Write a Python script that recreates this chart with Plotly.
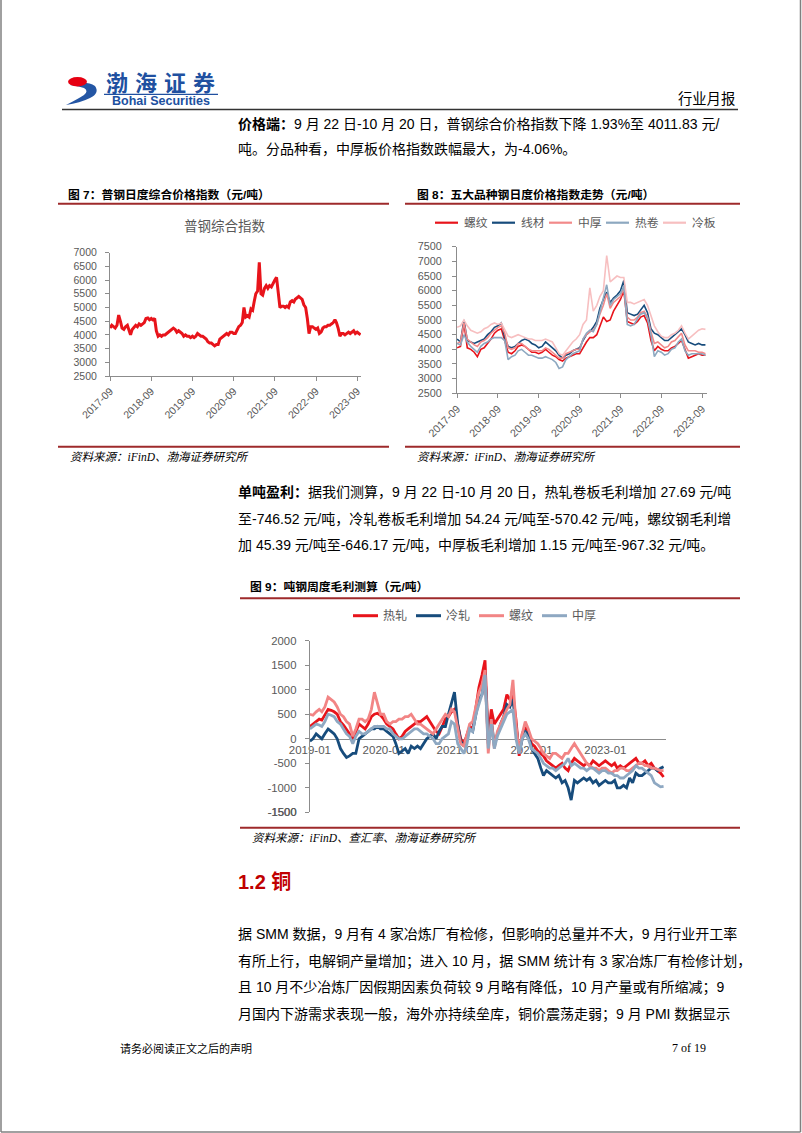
import plotly.graph_objects as go

# ---------------- data ----------------
TICKS7 = ["2017-09", "2018-09", "2019-09", "2020-09", "2021-09", "2022-09", "2023-09"]
PUGANG = [
    4250, 4350, 4300, 4250, 4350, 4725, 4500, 4250, 4200, 4300,
    4350, 4200, 4000, 4200, 4300, 4350, 4300, 4400, 4350, 4400,
    4450, 4600, 4620, 4550, 4600, 4550, 4600, 4150, 3950, 4000,
    3950, 4000, 4000, 4050, 4100, 4150, 4200, 4250, 4200, 4100,
    4150, 4100, 4050, 3950, 4000, 3950, 3950, 3900, 3950, 3900,
    3950, 4050, 4000, 3950, 3950, 3900, 3850, 3750, 3700, 3700,
    3650, 3600, 3650, 3650, 3850, 3900, 3950, 4000, 4050, 4000,
    4100, 4100, 4050, 4050, 4150, 4300, 4350, 4450, 5000, 4650,
    4700, 4650, 4950, 4900, 5200, 5500, 5600, 6650, 5500, 5450,
    5700, 5800, 5700, 5800, 5750, 5900, 6000, 6100, 5500, 5000,
    5050, 5050, 5000, 5050, 5000, 5200, 5250, 5200, 5300, 5350,
    5400, 5350, 5300, 5100, 5000, 4600, 4050, 4300, 4300, 4250,
    4200, 4250, 4050, 4100, 4250, 4300, 4300, 4350, 4350, 4400,
    4450, 4550, 4450, 4250, 3950, 4050, 4050, 4000, 4050, 4100,
    4050, 4100, 4150, 4050, 4100, 4050, 4010,
]

SERIES8 = ["螺纹", "线材", "中厚", "热卷", "冷板"]
LUOWEN8 = [
    4050, 4100, 4900, 4050, 4000, 3900, 3750, 4000, 4050, 4200,
    4350, 4550, 4650, 4700, 4300, 3900, 3850, 3950, 4100, 4150,
    4100, 4000, 3900, 3900, 3850, 3900, 4000, 3900, 3800, 3750,
    3650, 3600, 3700, 3750, 3800, 3850, 3850, 4050, 4250, 4400,
    4400, 4500, 4800, 5100, 4950, 5000, 5300, 5500, 5700, 6000,
    4950, 4900, 4850, 4950, 5100, 5150, 4900, 4300, 3950, 4100,
    4000, 3950, 3950, 4050, 4100, 4200, 4300, 4000, 3700, 3750,
    3800, 3850, 3800, 3800,
]
XIANCAI8 = [
    4350, 4250, 5000, 4300, 4250, 4200, 4250, 4300, 4350, 4500,
    4600, 4750, 4800, 4900, 4400, 4100, 4050, 4100, 4200, 4300,
    4350, 4300, 4200, 4150, 4050, 4100, 4250, 4150, 4050, 3950,
    3800, 3700, 3800, 3850, 3950, 4000, 4050, 4300, 4500, 4600,
    4750, 4950, 5400, 5700, 5950, 5600, 5750, 5850, 6000, 6350,
    5250, 5200, 5150, 5200, 5350, 5500, 5250, 4700, 4550, 4500,
    4400, 4300, 4300, 4400, 4500, 4600, 4700, 4500, 4250, 4200,
    4150, 4200, 4150, 4150,
]
ZHONGHOU8 = [
    4200, 4250, 4900, 4350, 4250, 4150, 4100, 4250, 4300, 4400,
    4550, 4650, 4750, 4800, 4550, 4050, 4000, 4050, 4200, 4200,
    4100, 4000, 3950, 3950, 3950, 3950, 4050, 4000, 3900, 3800,
    3700, 3700, 3850, 3900, 3950, 4000, 4000, 4350, 4500, 4600,
    4650, 4850, 5200, 5500, 5900, 5400, 5600, 5700, 5800, 6100,
    5100, 5000, 5000, 5100, 5250, 5300, 5100, 4600, 4200, 4250,
    4150, 4050, 4100, 4250, 4300, 4450, 4550, 4150, 3950, 3950,
    3950, 3900, 3900, 3850,
]
REJUAN8 = [
    4200, 4150, 4500, 4250, 4100, 4000, 3900, 4100, 4200, 4250,
    4350, 4400, 4400, 4400, 4300, 3650, 3750, 3800, 3950, 4000,
    3900, 3800, 3800, 3750, 3700, 3700, 3750, 3700, 3650, 3550,
    3350, 3400, 3650, 3750, 3850, 3900, 3950, 4350, 4550, 4650,
    4600, 4850, 5300, 5700, 6200, 5500, 5700, 5800, 5900, 6150,
    4850, 4800, 4850, 5050, 5200, 5250, 5050, 4500, 3750, 3950,
    3900, 3800, 3850, 4000, 4050, 4250, 4350, 3950, 3800, 3850,
    3850, 3850, 3850, 3800,
]
LENGBAN8 = [
    4750, 4800, 5000, 4800, 4650, 4600, 4550, 4600, 4700, 4750,
    4850, 4900, 4850, 4900, 4650, 4450, 4400, 4450, 4500, 4450,
    4400, 4350, 4350, 4300, 4300, 4300, 4350, 4300, 4250, 4050,
    3850, 3800, 3950, 4100, 4250, 4350, 4500, 4850, 5000, 6100,
    5300, 5500, 5800, 6000, 7200, 6300, 6400, 6500, 6450, 6450,
    5600, 5600, 5550, 5600, 5650, 5700, 5500, 5100, 4800, 4600,
    4450, 4400, 4400, 4500, 4550, 4650, 4800, 4550, 4350, 4450,
    4550, 4650, 4700, 4680,
]

SERIES9 = ["热轧", "冷轧", "螺纹", "中厚"]
TICKS9 = ["2019-01", "2020-01", "2021-01", "2022-01", "2023-01"]
REZHA9 = [
    250, 300, 350, 400, 380, 500, 600, 580, 550, 500,
    350, 280, 200, 100, 0, 150, 300, 250, 200, 300,
    450, 500, 520, 480, 400, 300, 250, 200, 100, 0,
    50, 150, 200, 250, 300, 350, 350, 400, 450, 350,
    250, 150, 100, 250, 400, 450, 550, 600, 300, 0,
    -100, 100, 250, 200, 600, 1050, 1300, 1600, 0, 600,
    300, 400, 500, 600, 900, 800, 900, 400, -350, 100,
    250, 150, -100, -150, -250, -300, -350, -450, -500, -550,
    -600, -550, -500, -600, -650, -500, -400, -450, -500, -550,
    -500, -550, -450, -500, -550, -500, -450, -500, -550, -500,
    -600, -550, -600, -550, -500, -450, -400, -500, -500, -450,
    -550, -500, -600, -650, -700, -780,
]
LENGZHA9 = [
    -50, 0, 100, 50, 0, 100, 200, 150, 100, 0,
    -200, -300, -380, -350, -300, -300, 0, 50, 100, 150,
    200, 200, 250, 200, 200, 150, 100, 50, -100, -300,
    -250, -200, -300, -150, -200, -150, -200, -100, 0, 50,
    100, 0, 150, 250, 250, 500, 700, 950, 300, -50,
    -150, 0, 200, 150, 500, 800, 900, 1350, -100, 400,
    -150, 100, 300, 450, 700, 650, 800, 200, -300, 0,
    150, 100, -200, -300, -400, -600, -750, -650, -700, -750,
    -800, -750, -900, -850, -1000, -1250, -850, -900, -850, -800,
    -850, -800, -900, -850, -950, -900, -850, -900, -900, -850,
    -1000, -1000, -950, -1000, -800, -900, -700, -750, -750, -700,
    -650, -600, -600, -650, -600, -570,
]
LUOWEN9 = [
    500, 480, 550, 600, 550, 650, 850, 800, 750, 650,
    500, 450, 350, 300, 50, 200, 400, 400, 350, 400,
    600, 950, 700, 500, 500, 350, 300, 350, 350, 400,
    400, 450, 450, 500, 400, 300, 300, 250, 200, 150,
    100, 200, 300, 400, 500, 450, 600, 550, 200, -100,
    -150, 100, 300, 350, 700, 950, 1100, 1400, -300, 400,
    -200, 150, 300, 450, 600, 700, 1200, 300, -300, 100,
    350, 200, 0, -50, -100, -200, -300, -350, -400, -300,
    -300, -350, -400, -300, -300, -200, -100, -200, -300, -400,
    -500, -550, -600, -600, -650, -600, -600, -650, -700, -650,
    -650, -600, -600, -650, -650, -600, -550, -500, -500, -550,
    -550, -600, -600, -620, -650, -650,
]
ZHONGHOU9 = [
    200, 250, 300, 280, 250, 350, 500, 480, 450, 350,
    300, 200, 100, 50, -100, 50, 150, 100, 100, 150,
    200, 250, 250, 250, 250, 200, 200, 100, 50, 0,
    0, 50, 100, 150, 200, 200, 150, 100, 100, 50,
    0, -100, -100, 0, 50, 100, 350, 300, -100, -200,
    -300, -100, 200, 150, 500, 700, 900, 1300, -200, 300,
    -200, 50, 200, 350, 500, 550, 600, 0, -300, 0,
    100, 0, -200, -250, -300, -400, -500, -550, -600, -600,
    -650, -600, -550, -500, -400, -550, -500, -550, -600, -600,
    -650, -600, -600, -650, -700, -650, -650, -700, -700, -750,
    -750, -800, -800, -750, -700, -650, -550, -600, -600, -650,
    -700, -750, -900, -950, -980, -970,
]
Y9_TICKS = [-1500, -1000, -500, 0, 500, 1000, 1500, 2000]

# ---------------- helpers ----------------
W, H = 802, 1133


def px(x):
    return x / W


def py(y):
    return 1 - y / H


def semimonthly(y0, m0, n):
    out = []
    for i in range(n):
        k = m0 - 1 + i // 2
        out.append(f"{y0 + k // 12}-{k % 12 + 1:02d}-{'01' if i % 2 == 0 else '16'}")
    return out


def monthly(y0, m0, n):
    out = []
    for i in range(n):
        k = m0 - 1 + i
        out.append(f"{y0 + k // 12}-{k % 12 + 1:02d}-01")
    return out


D7 = semimonthly(2017, 9, len(PUGANG))
D8 = monthly(2017, 9, len(LUOWEN8))
D9 = semimonthly(2019, 1, len(REZHA9))

LAT = "Liberation Sans, Arial, Noto Sans CJK SC, sans-serif"
CJK = "Liberation Sans, Noto Sans CJK SC, sans-serif"
SERIF = "Liberation Serif, Noto Sans CJK SC, serif"
RED = "#E8141B"
NAVY = "#174C7C"
COLORS8 = [RED, NAVY, "#F28A8A", "#8DA8C0", "#F7BFC0"]
COLORS9 = [RED, NAVY, "#F28585", "#8EA8C2"]
MAROON = "#9E2A2B"
AXC = "#8C8C8C"
TXT = "#595959"

fig = go.Figure()

# chart 7
fig.add_trace(go.Scatter(x=D7, y=PUGANG, mode="lines", line=dict(color=RED, width=3),
                         xaxis="x", yaxis="y", hoverinfo="skip"))
# chart 8
for name, vals, col in zip(SERIES8, [LUOWEN8, XIANCAI8, ZHONGHOU8, REJUAN8, LENGBAN8], COLORS8):
    fig.add_trace(go.Scatter(x=D8, y=vals, name=name, mode="lines", line=dict(color=col, width=1.6),
                             xaxis="x2", yaxis="y2", hoverinfo="skip"))
# chart 9 (x4 is an overlay axis carrying the date labels on the zero line)
fig.add_trace(go.Scatter(x=[], y=[], mode="lines", xaxis="x4", yaxis="y3", hoverinfo="skip"))
for name, vals, col in zip(SERIES9, [REZHA9, LENGZHA9, LUOWEN9, ZHONGHOU9], COLORS9):
    fig.add_trace(go.Scatter(x=D9, y=vals, name=name, mode="lines", line=dict(color=col, width=2.8),
                             xaxis="x3", yaxis="y3", hoverinfo="skip"))

common = dict(showgrid=False, zeroline=False, showline=True, linecolor=AXC, linewidth=1,
              ticks="outside", ticklen=4, tickcolor=AXC, automargin=False)

y9range = [-1500, 2000]
y9dom = [py(812.3), py(640.7)]
x9dom = [px(309.7), px(666)]
x9range = ["2018-12-31", "2023-10-28"]
zero_pos = y9dom[0] + (0 - y9range[0]) / (y9range[1] - y9range[0]) * (y9dom[1] - y9dom[0])

fig.update_layout(
    template="none",
    width=W, height=H, margin=dict(l=0, r=0, t=0, b=0, pad=0, autoexpand=False),
    paper_bgcolor="white", plot_bgcolor="rgba(0,0,0,0)", showlegend=False,
    xaxis=dict(domain=[px(110), px(361)], range=["2017-08-31", "2023-10-05"], type="date",
               tickmode="array", tickvals=[t + "-01" for t in TICKS7], ticktext=TICKS7,
               tickangle=-45, anchor="y",
               tickfont=dict(family=LAT, size=10.5, color=TXT), **common),
    yaxis=dict(domain=[py(376), py(252.7)], range=[2500, 7000], dtick=500, tick0=2500,
               anchor="x", ticklabelstandoff=6,
               tickfont=dict(family=LAT, size=10.5, color=TXT), **common),
    xaxis2=dict(domain=[px(457), px(707)], range=["2017-08-31", "2023-10-15"], type="date",
                tickmode="array", tickvals=[t + "-01" for t in TICKS7], ticktext=TICKS7,
                tickangle=-45, anchor="y2",
                tickfont=dict(family=LAT, size=10.8, color=TXT), **common),
    yaxis2=dict(domain=[py(393.3), py(246.7)], range=[2500, 7500], dtick=500, tick0=2500,
                anchor="x2", ticklabelstandoff=8,
                tickfont=dict(family=LAT, size=10.8, color=TXT), **common),
    xaxis3=dict(domain=x9dom, range=x9range, type="date", anchor="y3",
                showline=False, showticklabels=False, ticks="", showgrid=False,
                zeroline=False, automargin=False),
    xaxis4=dict(domain=x9dom, range=x9range, type="date", overlaying="x3",
                tickmode="array", tickvals=[t + "-01" for t in TICKS9], ticktext=TICKS9,
                tickangle=0, anchor="free", position=zero_pos, layer="below traces",
                showgrid=False, zeroline=False, showline=True, linecolor=AXC, linewidth=1,
                ticks="", automargin=False, tickfont=dict(family=LAT, size=11.5, color=TXT)),
    yaxis3=dict(domain=y9dom, range=y9range, tickmode="array", tickvals=Y9_TICKS,
                ticktext=[str(v) for v in Y9_TICKS], anchor="x3",
                ticklabelstandoff=6,
                tickfont=dict(family=LAT, size=11.3, color=TXT), **common),
)

shapes = []
ann = []


def hline(x0, x1, y, color, width):
    shapes.append(dict(type="line", xref="paper", yref="paper", x0=px(x0), x1=px(x1),
                       y0=py(y), y1=py(y), line=dict(color=color, width=width)))


def text(x, y, s, size, color="#000000", family=CJK, xanchor="left"):
    ann.append(dict(x=px(x), y=py(y), xref="paper", yref="paper", text=s, showarrow=False,
                    xanchor=xanchor, yanchor="middle", font=dict(size=size, color=color, family=family)))


def pathstr(spec):
    toks = spec.split()
    out, nums = [], []
    for t in toks:
        if t.isalpha():
            out.append(t)
        else:
            nums.append(float(t))
            if len(nums) == 2:
                out.append(f"{px(nums[0]):.5f},{py(nums[1]):.5f}")
                nums = []
    return " ".join(out)


# page frame
shapes.append(dict(type="line", xref="paper", yref="paper", x0=px(1), x1=px(1), y0=py(0), y1=py(1132),
                   line=dict(color="#808080", width=1.5)))
shapes.append(dict(type="line", xref="paper", yref="paper", x0=px(800.5), x1=px(800.5), y0=py(0), y1=py(1132),
                   line=dict(color="#808080", width=1.5)))
hline(1, 800.5, 1132, "#808080", 1.5)

# logo
shapes.append(dict(type="path", xref="paper", yref="paper",
                   path=pathstr("M 70 85 Q 86 80 95 86 Q 100 93 90 98 Q 80 103 66 105 "
                                "Q 78 99 84 95 Q 89 91 84 88 Q 78 86 70 85 Z"),
                   fillcolor="#2456A4", line=dict(width=0)))
shapes.append(dict(type="circle", xref="paper", yref="paper", x0=px(68), x1=px(87), y0=py(86.5), y1=py(77),
                   fillcolor="#E60012", line=dict(width=0)))
for i, ch in enumerate("渤海证券"):
    text(117 + i * 29, 83, f"<b>{ch}</b>", 22, "#2050A0", CJK, "center")
hline(104, 218, 94.3, "#2050A0", 1.3)
text(161, 101.5, "<b>Bohai Securities</b>", 12.5, "#2050A0", LAT, "center")
text(737, 98.5, "行业月报", 14.3, "#000000", CJK, "right")
hline(62, 738, 109.5, "#333333", 1.6)

# paragraph 1
text(236, 124, "<b>价格端：</b>9 月 22 日-10 月 20 日，普钢综合价格指数下降 1.93%至 4011.83 元/", 14)
text(236, 149, "吨。分品种看，中厚板价格指数跌幅最大，为-4.06%。", 14)

# chart 7 frame
text(66, 194.5, "<b>图 7：普钢日度综合价格指数（元/吨）</b>", 11.8)
hline(58, 389, 203.7, MAROON, 2)
text(224.5, 227, "普钢综合指数", 13.5, TXT, CJK, "center")
hline(58, 389, 446.7, MAROON, 2)
text(68, 457, "<i>资料来源：iFinD、渤海证券研究所</i>", 11.5, "#000000", SERIF)

# chart 8 frame
text(415, 194.5, "<b>图 8：五大品种钢日度价格指数走势（元/吨）</b>", 11.8)
hline(405, 740, 203.7, MAROON, 2)
for i, (name, col) in enumerate(zip(SERIES8, COLORS8)):
    x0 = 435 + i * 57
    hline(x0, x0 + 23, 222.7, col, 2.2)
    text(x0 + 27, 222.7, name, 11.8, TXT, CJK)
hline(405, 740, 446.7, MAROON, 2)
text(415, 457, "<i>资料来源：iFinD、渤海证券研究所</i>", 11.5, "#000000", SERIF)

# paragraph 2
text(236, 492, "<b>单吨盈利：</b>据我们测算，9 月 22 日-10 月 20 日，热轧卷板毛利增加 27.69 元/吨", 14)
text(236, 519, "至-746.52 元/吨，冷轧卷板毛利增加 54.24 元/吨至-570.42 元/吨，螺纹钢毛利增", 14)
text(236, 545, "加 45.39 元/吨至-646.17 元/吨，中厚板毛利增加 1.15 元/吨至-967.32 元/吨。", 14)

# chart 9 frame
text(248, 587, "<b>图 9：吨钢周度毛利测算（元/吨）</b>", 11.8)
hline(240, 740, 598.3, MAROON, 2)
for i, (name, col) in enumerate(zip(SERIES9, COLORS9)):
    x0 = 353 + i * 63
    hline(x0, x0 + 25, 615.7, col, 3)
    text(x0 + 28, 615.7, name, 12, TXT, CJK)
# bottom y label of chart 9, placed at the lower end of the y3 domain
ann.append(dict(x=x9dom[0], xref="paper", y=y9dom[0], yref="paper", text=str(Y9_TICKS[0]),
                showarrow=False, xanchor="right", yanchor="middle", xshift=-11,
                font=dict(family=LAT, size=11.3, color=TXT)))
hline(240, 740, 827.7, MAROON, 2)
text(250, 838, "<i>资料来源：iFinD、查汇率、渤海证券研究所</i>", 11.5, "#000000", SERIF)

# section 1.2
text(236, 882, "<b>1.2 铜</b>", 20, "#C00000", CJK)
text(236, 934, "据 SMM 数据，9 月有 4 家冶炼厂有检修，但影响的总量并不大，9 月行业开工率", 14)
text(236, 961, "有所上行，电解铜产量增加；进入 10 月，据 SMM 统计有 3 家冶炼厂有检修计划，", 14)
text(236, 987, "且 10 月不少冶炼厂因假期因素负荷较 9 月略有降低，10 月产量或有所缩减；9", 14)
text(236, 1014, "月国内下游需求表现一般，海外亦持续垒库，铜价震荡走弱；9 月 PMI 数据显示", 14)

# footer
text(118, 1048, "请务必阅读正文之后的声明", 11, "#000000", CJK)
text(708, 1048, "7 of 19", 12, "#000000", SERIF, "right")

fig.update_layout(shapes=shapes, annotations=ann)

fig.write_html("out.html", config={"displayModeBar": False},
               post_script="document.body.style.margin='0';")
